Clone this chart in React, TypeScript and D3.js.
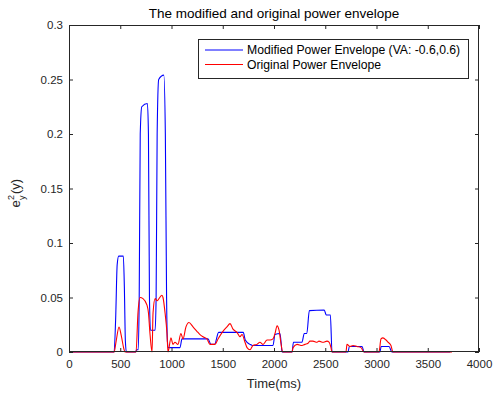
import React, { useEffect, useRef } from "react";
import * as d3 from "d3";

// modified envelope (blue), time in ms
const modTime = [0, 440, 455, 470, 485, 530, 540, 550, 560, 650, 660, 675, 685, 695, 710, 765, 775, 785, 795, 840, 850, 860, 875, 925, 940, 952, 960, 970, 1083, 1102, 1356, 1385, 1420, 1460, 1700, 1720, 1766, 1790, 1990, 2010, 2058, 2070, 2078, 2176, 2190, 2273, 2295, 2320, 2345, 2490, 2510, 2550, 2566, 2722, 2735, 2859, 2880, 3034, 3045, 3122, 3150, 3720];
const modPower = [0, 0, 0.03, 0.08, 0.088, 0.088, 0.06, 0.01, 0, 0, 0.002, 0.002, 0.05, 0.2, 0.225, 0.228, 0.2, 0.05, 0.02, 0.02, 0.05, 0.2, 0.25, 0.254, 0.2, 0.05, 0.01, 0.004, 0.004, 0.012, 0.012, 0.007, 0.007, 0.018, 0.018, 0.011, 0.007, 0.006, 0.006, 0.016, 0.017, 0.008, 0, 0, 0.009, 0.009, 0.017, 0.017, 0.038, 0.0385, 0.034, 0.034, 0, 0, 0.005, 0.005, 0, 0, 0.005, 0.005, 0, 0];

// original envelope (red)
const origTime = [0, 440, 460, 488, 510, 535, 546, 654, 673, 693, 722, 761, 775, 790, 810, 820, 840, 860, 878, 907, 917, 937, 956, 966, 995, 1014, 1034, 1063, 1092, 1112, 1141, 1170, 1210, 1248, 1278, 1307, 1346, 1375, 1424, 1454, 1502, 1541, 1571, 1600, 1639, 1668, 1688, 1717, 1737, 1766, 1795, 1834, 1863, 1893, 1932, 1961, 1990, 2010, 2030, 2049, 2068, 2085, 2176, 2186, 2225, 2273, 2302, 2332, 2351, 2380, 2420, 2439, 2478, 2517, 2537, 2556, 2566, 2702, 2712, 2741, 2771, 2810, 2849, 2878, 3024, 3044, 3063, 3093, 3112, 3141, 3161, 3737];
const origPower = [0, 0, 0.01, 0.023, 0.015, 0.003, 0, 0, 0.036, 0.05, 0.049, 0.043, 0.036, 0.017, 0, 0.036, 0.049, 0.047, 0.049, 0.052, 0.05, 0.036, 0.017, 0, 0.013, 0.007, 0.009, 0.007, 0.017, 0.012, 0.023, 0.027, 0.023, 0.019, 0.016, 0.014, 0.012, 0.007, 0.007, 0.012, 0.019, 0.023, 0.026, 0.021, 0.018, 0.014, 0.016, 0.009, 0.004, 0.002, 0.006, 0.007, 0.009, 0.007, 0.011, 0.011, 0.012, 0.017, 0.024, 0.02, 0.008, 0, 0, 0.004, 0.007, 0.006, 0.007, 0.008, 0.01, 0.01, 0.009, 0.01, 0.009, 0.01, 0.009, 0.004, 0, 0, 0.007, 0.005, 0.006, 0.005, 0.004, 0, 0, 0.012, 0.013, 0.011, 0.009, 0.006, 0, 0];

const xTicks = [0, 500, 1000, 1500, 2000, 2500, 3000, 3500, 4000];
const yTicks = [0, 0.05, 0.1, 0.15, 0.2, 0.25, 0.3];
const legendLabels = ["Modified Power Envelope (VA: -0.6,0.6)", "Original Power Envelope"];

const W = 500;
const H = 394;
const left = 69;
const right = 479;
const top = 25;
const bottom = 352;
const axisColor = "#262626";
const font = "'Liberation Sans', Arial, sans-serif";

export default function App() {
  const ref = useRef<SVGSVGElement | null>(null);

  useEffect(() => {
    const svg = d3.select(ref.current);
    svg.selectAll("*").remove();

    const x = d3.scaleLinear().domain([0, 4000]).range([left, right]);
    const y = d3.scaleLinear().domain([0, 0.3]).range([bottom, top]);

    svg.append("rect").attr("width", W).attr("height", H).attr("fill", "#fff");

    const line = d3
      .line<[number, number]>()
      .x((d) => x(d[0]))
      .y((d) => y(d[1]))
      .curve(d3.curveMonotoneX);

    const modData: [number, number][] = modTime.map((t, i) => [t, modPower[i]]);
    const origData: [number, number][] = origTime.map((t, i) => [t, origPower[i]]);

    svg
      .append("path")
      .attr("d", line(modData)!)
      .attr("fill", "none")
      .attr("stroke", "#0000ff")
      .attr("stroke-width", 1.1);
    svg
      .append("path")
      .attr("d", line(origData)!)
      .attr("fill", "none")
      .attr("stroke", "#ff0000")
      .attr("stroke-width", 1.1);

    // axes: ticks pointing inward on all four sides
    const styleAxis = (g: any) => {
      g.select(".domain").remove();
      g.selectAll(".tick line").attr("stroke", axisColor);
      g.selectAll(".tick text")
        .attr("fill", axisColor)
        .style("font-family", font)
        .style("font-size", "11.5px");
    };

    svg
      .append("g")
      .attr("transform", `translate(0,${bottom})`)
      .call(d3.axisBottom(x).tickValues(xTicks).tickSizeInner(-4).tickSizeOuter(0).tickPadding(8).tickFormat(d3.format("d")) as any)
      .call(styleAxis);
    svg
      .append("g")
      .attr("transform", `translate(0,${top})`)
      .call(d3.axisTop(x).tickValues(xTicks).tickSizeInner(-4).tickSizeOuter(0).tickFormat(() => "") as any)
      .call(styleAxis);
    svg
      .append("g")
      .attr("transform", `translate(${left},0)`)
      .call(d3.axisLeft(y).tickValues(yTicks).tickSizeInner(-4).tickSizeOuter(0).tickPadding(6).tickFormat((d: any) => (d === 0 ? "0" : String(+d.toFixed(2)))) as any)
      .call(styleAxis);
    svg
      .append("g")
      .attr("transform", `translate(${right},0)`)
      .call(d3.axisRight(y).tickValues(yTicks).tickSizeInner(-4).tickSizeOuter(0).tickFormat(() => "") as any)
      .call(styleAxis);

    svg
      .append("rect")
      .attr("x", left + 0.5)
      .attr("y", top + 0.5)
      .attr("width", right - left - 1)
      .attr("height", bottom - top - 1)
      .attr("fill", "none")
      .attr("stroke", axisColor)
      .attr("stroke-width", 1);

    // title and labels
    svg
      .append("text")
      .attr("x", (left + right) / 2)
      .attr("y", 18)
      .attr("text-anchor", "middle")
      .attr("fill", "#000")
      .style("font-family", font)
      .style("font-size", "13.5px")
      .text("The modified and original power envelope");

    svg
      .append("text")
      .attr("x", (left + right) / 2)
      .attr("y", 388)
      .attr("text-anchor", "middle")
      .attr("fill", axisColor)
      .style("font-family", font)
      .style("font-size", "13px")
      .text("Time(ms)");

    const yl = svg
      .append("g")
      .attr("transform", `translate(20,${(top + bottom) / 2}) rotate(-90)`)
      .style("font-family", font)
      .attr("fill", axisColor);
    yl.append("text").attr("x", -19).attr("y", 0).style("font-size", "13px").text("e");
    yl.append("text").attr("x", -11.5).attr("y", -6).style("font-size", "9px").text("2");
    yl.append("text").attr("x", -11.5).attr("y", 5).style("font-size", "9px").text("y");
    yl.append("text").attr("x", -5.5).attr("y", 0).style("font-size", "13px").text("(y)");

    // legend
    const lg = svg.append("g");
    lg.append("rect")
      .attr("x", 198.5)
      .attr("y", 39.5)
      .attr("width", 270)
      .attr("height", 39)
      .attr("fill", "#fff")
      .attr("stroke", axisColor)
      .attr("stroke-width", 1);
    const colors = ["#0000ff", "#ff0000"];
    legendLabels.forEach((label, i) => {
      const ly = 50 + i * 14.5;
      lg.append("line")
        .attr("x1", 205)
        .attr("x2", 243)
        .attr("y1", ly)
        .attr("y2", ly)
        .attr("stroke", colors[i])
        .attr("stroke-width", 1);
      lg.append("text")
        .attr("x", 247)
        .attr("y", ly + 4)
        .attr("fill", "#000")
        .style("font-family", font)
        .style("font-size", "12.2px")
        .text(label);
    });
  }, []);

  return (
    <svg
      ref={ref}
      width={W}
      height={H}
      style={{ position: "absolute", left: 0, top: 0, display: "block" }}
    />
  );
}
